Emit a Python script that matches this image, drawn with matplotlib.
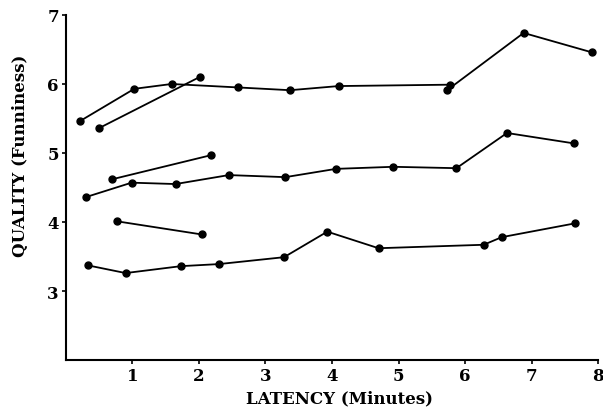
import matplotlib
matplotlib.use("Agg")
import matplotlib.pyplot as plt

# Top long series
top_x = [0.21, 1.03, 1.59, 2.59, 3.37, 4.10, 5.77, 5.73, 6.88, 7.90]
top_y = [5.46, 5.93, 6.00, 5.95, 5.91, 5.97, 5.99, 5.91, 6.74, 6.46]

# Short upper series
up_short_x = [0.50, 2.01]
up_short_y = [5.36, 6.10]

# Short middle series
mid_short_x = [0.70, 2.19]
mid_short_y = [4.62, 4.97]

# Middle long series
mid_x = [0.30, 0.99, 1.65, 2.45, 3.30, 4.06, 4.92, 5.87, 6.63, 7.63]
mid_y = [4.36, 4.57, 4.55, 4.68, 4.65, 4.77, 4.80, 4.78, 5.29, 5.14]

# Short lower series
low_short_x = [0.77, 2.04]
low_short_y = [4.01, 3.82]

# Bottom long series
bot_x = [0.34, 0.90, 1.73, 2.30, 3.28, 3.93, 4.70, 6.28, 6.55, 7.65]
bot_y = [3.37, 3.26, 3.36, 3.39, 3.49, 3.86, 3.62, 3.67, 3.78, 3.98]

x_ticks = [1, 2, 3, 4, 5, 6, 7, 8]
y_ticks = [3, 4, 5, 6, 7]

font = {"family": "DejaVu Serif", "weight": "bold"}

fig = plt.figure(figsize=(6.03, 4.10), dpi=100)
ax = fig.add_axes([0.109, 0.1195, 0.883, 0.8415])

for xs, ys in [(top_x, top_y), (up_short_x, up_short_y), (mid_short_x, mid_short_y),
               (mid_x, mid_y), (low_short_x, low_short_y), (bot_x, bot_y)]:
    ax.plot(xs, ys, "-o", color="black", lw=1.3, markersize=5)

ax.set_xlim(0, 8)
ax.set_ylim(2, 7)
ax.set_xticks(x_ticks)
ax.set_yticks(y_ticks)
ax.set_xticklabels([str(t) for t in x_ticks], fontdict=font, fontsize=12)
ax.set_yticklabels([str(t) for t in y_ticks], fontdict=font, fontsize=12)
ax.tick_params(direction="out", length=3, width=1.2, pad=2)

ax.spines["top"].set_visible(False)
ax.spines["right"].set_visible(False)
ax.spines["left"].set_linewidth(1.5)
ax.spines["bottom"].set_linewidth(1.5)

ax.set_xlabel("LATENCY (Minutes)", fontdict=font, fontsize=12, va="center")
ax.set_ylabel("QUALITY (Funniness)", fontdict=font, fontsize=12, va="center")
ax.xaxis.set_label_coords(0.515, -0.11)
ax.yaxis.set_label_coords(-0.085, 0.594)

fig.savefig("out.png", dpi=100)
